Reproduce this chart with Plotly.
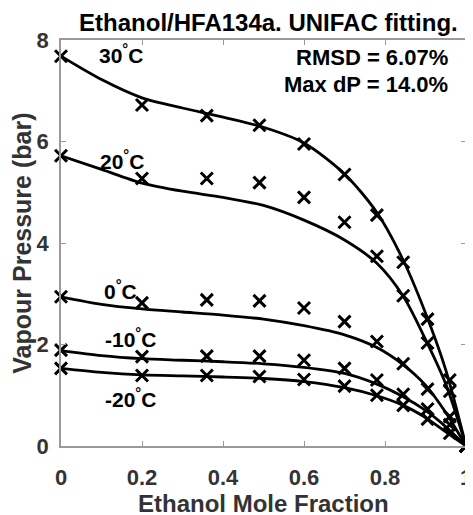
import plotly.graph_objects as go

# Measured data (markers)
x_meas = [0, 0.2, 0.36, 0.49, 0.6, 0.7, 0.78, 0.845, 0.905, 0.96, 1.0]
p30_meas = [7.68, 6.72, 6.51, 6.32, 5.95, 5.35, 4.55, 3.62, 2.50, 1.30, 0.0]
p20_meas = [5.72, 5.27, 5.27, 5.19, 4.90, 4.41, 3.74, 2.96, 2.03, 1.08, 0.0]
p0_meas = [2.94, 2.82, 2.88, 2.86, 2.72, 2.45, 2.06, 1.62, 1.12, 0.58, 0.0]
pm10_meas = [1.89, 1.76, 1.77, 1.77, 1.69, 1.53, 1.30, 1.02, 0.73, 0.42, 0.0]
pm20_meas = [1.53, 1.39, 1.39, 1.37, 1.31, 1.18, 1.00, 0.80, 0.53, 0.25, 0.0]

# UNIFAC fitted curves
x_fit = [0, 0.1, 0.2, 0.3, 0.4, 0.5, 0.6, 0.7, 0.78, 0.845, 0.9, 0.95, 1.0]
p30_fit = [7.68, 7.22, 6.86, 6.66, 6.48, 6.28, 5.97, 5.36, 4.60, 3.66, 2.62, 1.50, 0.0]
p20_fit = [5.72, 5.45, 5.18, 5.02, 4.90, 4.74, 4.45, 4.06, 3.60, 2.95, 2.10, 1.22, 0.0]
p0_fit = [2.94, 2.79, 2.70, 2.64, 2.58, 2.50, 2.37, 2.19, 1.94, 1.60, 1.20, 0.66, 0.0]
pm10_fit = [1.88, 1.78, 1.72, 1.69, 1.66, 1.62, 1.55, 1.43, 1.22, 0.97, 0.70, 0.38, 0.0]
pm20_fit = [1.53, 1.45, 1.40, 1.38, 1.36, 1.33, 1.27, 1.15, 0.99, 0.80, 0.56, 0.28, 0.0]

labels = ["30<sup>°</sup>C", "20<sup>°</sup>C", "0<sup>°</sup>C", "-10<sup>°</sup>C", "-20<sup>°</sup>C"]
label_x = [0.148, 0.151, 0.148, 0.171, 0.171]
label_y = [7.72, 5.64, 3.07, 2.13, 0.94]

x_ticks = [0, 0.2, 0.4, 0.6, 0.8, 1]
x_ticklabels = ["0", "0.2", "0.4", "0.6", "0.8", "1"]
y_ticks = [0, 2, 4, 6, 8]
y_ticklabels = ["0", "2", "4", "6", "8"]

FONT = "Arial, Liberation Sans, sans-serif"

fig = go.Figure()
for yf in [p30_fit, p20_fit, p0_fit, pm10_fit, pm20_fit]:
    fig.add_trace(go.Scatter(x=x_fit, y=yf, mode="lines",
                             line=dict(color="black", width=2.8, shape="spline", smoothing=0.8),
                             showlegend=False, hoverinfo="skip"))
for ym in [p30_meas, p20_meas, p0_meas, pm10_meas, pm20_meas]:
    fig.add_trace(go.Scatter(x=x_meas, y=ym, mode="markers",
                             marker=dict(symbol="x-thin", size=12, color="black",
                                         line=dict(color="black", width=3)),
                             cliponaxis=False, showlegend=False))

for t, lx, ly in zip(labels, label_x, label_y):
    fig.add_annotation(x=lx, y=ly, text=f"<b>{t}</b>", showarrow=False, xanchor="center",
                       yanchor="middle", font=dict(family=FONT, size=21, color="black"))

fig.add_annotation(xref="paper", yref="paper", x=0.96, y=0.958, text="<b>RMSD = 6.07%</b>",
                   showarrow=False, xanchor="right", yanchor="middle",
                   font=dict(family=FONT, size=22, color="black"))
fig.add_annotation(xref="paper", yref="paper", x=0.96, y=0.89, text="<b>Max dP = 14.0%</b>",
                   showarrow=False, xanchor="right", yanchor="middle",
                   font=dict(family=FONT, size=22, color="black"))

# Axis titles
fig.add_annotation(xref="paper", yref="paper", x=0.5, y=-0.141, text="<b>Ethanol Mole Fraction</b>",
                   showarrow=False, xanchor="center", yanchor="middle",
                   font=dict(family=FONT, size=24, color="#333333"))
fig.add_annotation(xref="paper", yref="paper", x=-0.097, y=0.5, text="<b>Vapour Pressure (bar)</b>",
                   showarrow=False, xanchor="center", yanchor="middle", textangle=-90,
                   font=dict(family=FONT, size=25, color="#333333"))

axis_common = dict(showgrid=False, zeroline=False, showline=True, linecolor="#9a9a9a",
                   linewidth=1.5, mirror="ticks", ticks="inside", ticklen=5,
                   tickcolor="#9a9a9a", tickwidth=1, automargin=False,
                   ticklabeloverflow="allow",
                   tickfont=dict(family=FONT, size=22, color="#333333"))

# The page body has an 8px margin; size and margins compensate so the plot
# area lands at the same window position as the reference.
fig.update_layout(
    width=465, height=507,
    margin=dict(l=53, r=7, t=32, b=69),
    plot_bgcolor="white", paper_bgcolor="white",
    title=dict(text="<b>Ethanol/HFA134a. UNIFAC fitting.</b>", x=0.56, xanchor="center",
               y=0.972, yanchor="middle", font=dict(family=FONT, size=24, color="black")),
    xaxis=dict(range=[0, 1], tickvals=x_ticks, ticktext=[f"<b>{t}</b>" for t in x_ticklabels],
               ticklabelstandoff=11, **axis_common),
    yaxis=dict(range=[0, 8], tickvals=y_ticks, ticktext=[f"<b>{t}</b>" for t in y_ticklabels],
               ticklabelstandoff=6, **axis_common),
)

fig.write_html("out.html")
